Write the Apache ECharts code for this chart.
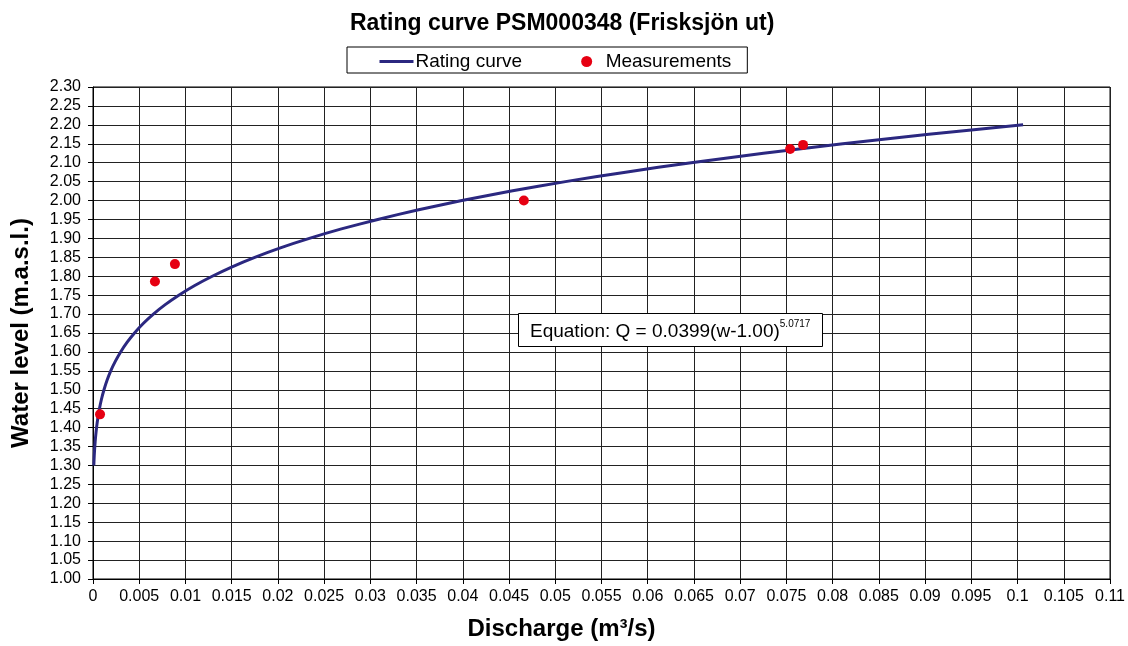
<!DOCTYPE html>
<html><head><meta charset="utf-8">
<script src="https://cdn.jsdelivr.net/npm/echarts@6/dist/echarts.min.js"></script>
<style>html,body{margin:0;padding:0;background:#fff}#c{width:1128px;height:646px}</style>
</head><body><div id="c"></div>
<script>
// Rating curve (water level w in m.a.s.l., discharge Q in m3/s)
const curveLevel = [1.30, 1.31, 1.32, 1.325, 1.35, 1.375, 1.40, 1.425, 1.45, 1.475, 1.50, 1.525, 1.55, 1.575, 1.60, 1.625, 1.65, 1.675, 1.70, 1.725, 1.75, 1.775, 1.80, 1.825, 1.85, 1.875, 1.90, 1.925, 1.95, 1.975, 2.00, 2.025, 2.05, 2.075, 2.10, 2.125, 2.15, 2.175, 2.20];
const curveQ = [0.0000888, 0.000105, 0.000123, 0.000134, 0.000194, 0.000276, 0.000383, 0.000520, 0.000695, 0.000914, 0.00119, 0.00152, 0.00192, 0.00241, 0.00299, 0.00368, 0.00449, 0.00543, 0.00653, 0.00781, 0.00928, 0.01096, 0.0129, 0.01505, 0.0175, 0.02027, 0.0234, 0.02687, 0.0308, 0.0351, 0.0399, 0.04524, 0.0511, 0.0576, 0.0647, 0.07252, 0.0811, 0.0904, 0.1006];
// Measurements
const measQ = [0.00076, 0.0067, 0.00886, 0.0466, 0.0754, 0.0768];
const measLevel = [1.435, 1.786, 1.832, 2.000, 2.136, 2.147];
const titleText = 'Rating curve PSM000348 (Frisksjön ut)';
const eqMain = 'Equation: Q = 0.0399(w-1.00)';
const eqExp = '5.0717';

const chart = echarts.init(document.getElementById('c'), null, {renderer: 'canvas'});
const font = 'Arial, "Liberation Sans", sans-serif';
chart.setOption({
  animation: false,
  backgroundColor: '#fff',
  textStyle: {fontFamily: font},
  title: [{
    text: titleText, left: 345, top: 7,
    textStyle: {fontSize: 23, fontWeight: 'bold', color: '#000', fontFamily: font}
  }, {
    text: '{m|' + eqMain + '}{s|' + eqExp + '}',
    left: 518, top: 313, padding: [6, 12, 6, 12],
    borderColor: '#000', borderWidth: 1, backgroundColor: '#fff',
    textStyle: {fontWeight: 'normal', rich: {
      m: {fontSize: 19, fontWeight: 'normal', color: '#000', fontFamily: font, verticalAlign: 'bottom', lineHeight: 22},
      s: {fontSize: 10, fontWeight: 'normal', color: '#000', fontFamily: font, verticalAlign: 'top', lineHeight: 22, padding: [0, 0, 10, 0]}
    }}
  }],
  legend: {
    left: 347, top: 47, padding: [5, 16, 2, 31], itemGap: 59,
    borderColor: '#000', borderWidth: 1, borderRadius: 0,
    itemWidth: 34, itemHeight: 11,
    textStyle: {fontSize: 19, color: '#000', fontFamily: font, padding: [0, 0, 0, -3]},
    data: [{name: 'Rating curve', itemStyle: {opacity: 0}, lineStyle: {width: 3, color: '#2b2880'}}, {name: 'Measurements', icon: 'circle'}]
  },
  grid: {left: 93, right: 17, top: 87, bottom: 66, show: true, borderColor: '#000', borderWidth: 1},
  xAxis: {
    type: 'value', min: 0, max: 0.11, interval: 0.005,
    name: 'Discharge (m³/s)', nameLocation: 'middle', nameGap: 38,
    nameTextStyle: {fontSize: 24, fontWeight: 'bold', color: '#000', fontFamily: font, padding: [0, 80, 0, 0]},
    axisLine: {show: true, lineStyle: {color: '#000', width: 1}},
    axisTick: {show: true, length: 5, lineStyle: {color: '#000'}},
    axisLabel: {fontSize: 16, color: '#000', margin: 10, fontFamily: font},
    splitLine: {show: true, lineStyle: {color: '#222', width: 1}}
  },
  yAxis: {
    type: 'value', min: 1.0, max: 2.3, interval: 0.05,
    name: 'Water level (m.a.s.l.)', nameLocation: 'middle', nameGap: 60,
    nameTextStyle: {fontSize: 24, fontWeight: 'bold', color: '#000', fontFamily: font},
    axisLine: {show: true, lineStyle: {color: '#000', width: 1}},
    axisTick: {show: true, length: 5, lineStyle: {color: '#000'}},
    axisLabel: {fontSize: 16, color: '#000', margin: 12, fontFamily: font, formatter: v => v.toFixed(2)},
    splitLine: {show: true, lineStyle: {color: '#222', width: 1}}
  },
  series: [{
    name: 'Rating curve', type: 'line', symbol: 'none', showSymbol: false,
    smooth: 0.2,
    lineStyle: {color: '#2b2880', width: 3},
    itemStyle: {color: '#2b2880'},
    data: curveQ.map((q, i) => [q, curveLevel[i]]), z: 3
  }, {
    name: 'Measurements', type: 'scatter', symbol: 'circle', symbolSize: 10,
    itemStyle: {color: '#e60012', opacity: 1},
    data: measQ.map((q, i) => [q, measLevel[i]]), z: 4
  }]
});
</script></body></html>
